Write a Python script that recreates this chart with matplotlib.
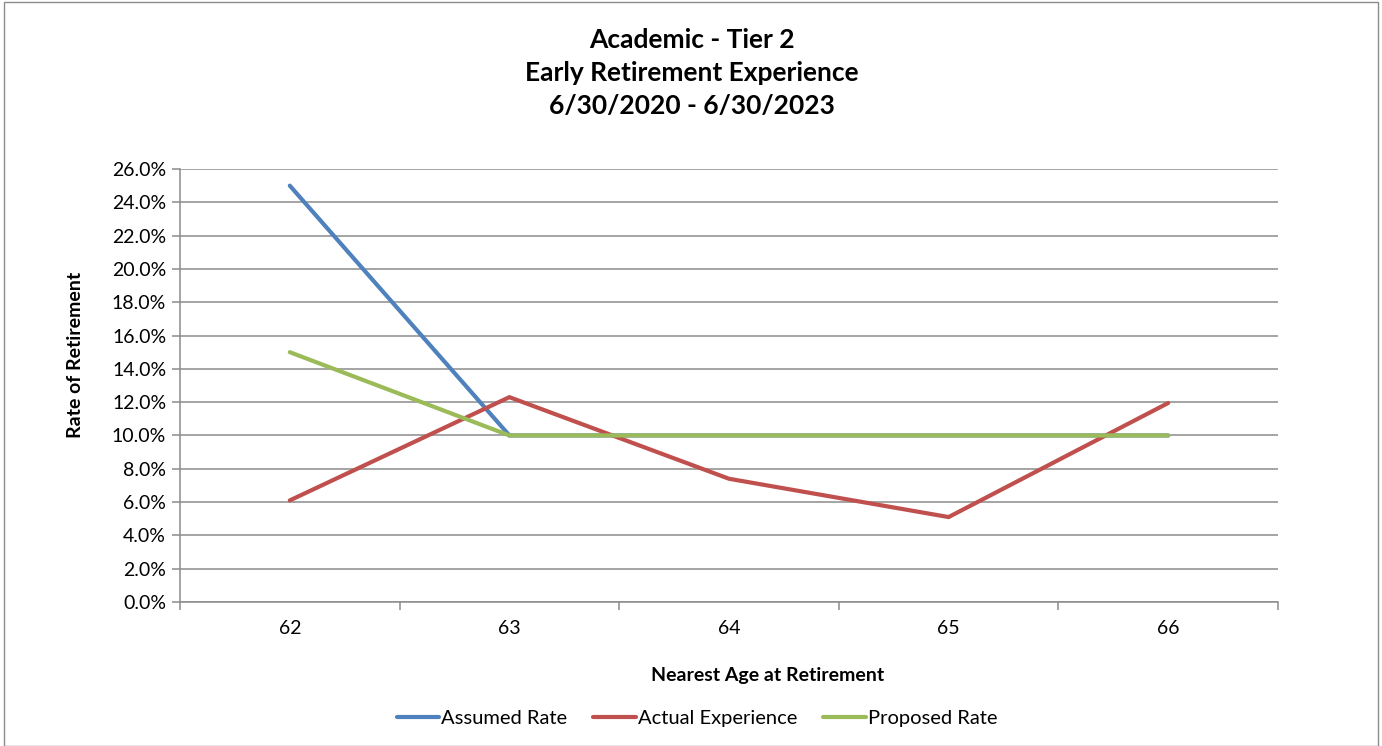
import matplotlib
matplotlib.use("Agg")
import matplotlib.pyplot as plt
from matplotlib.ticker import FuncFormatter, FixedLocator, NullFormatter
from matplotlib.patches import Rectangle

plt.rcParams['font.family'] = ['Lato', 'DejaVu Sans']

ages = ["62", "63", "64", "65", "66"]
assumed_rate = [25.0, 10.0, 10.0, 10.0, 10.0]
actual_experience = [6.1, 12.3, 7.4, 5.1, 11.95]
proposed_rate = [15.0, 10.0, 10.0, 10.0, 10.0]

title_lines = ["Academic - Tier 2", "Early Retirement Experience", "6/30/2020 - 6/30/2023"]

fig = plt.figure(figsize=(13.82, 7.46), dpi=100)
ax = fig.add_axes([180 / 1382, 144 / 746, 1098 / 1382, 433 / 746])

x = list(range(len(ages)))
lw = 3.0
ax.plot(x, [v / 100 for v in assumed_rate], color="#4F81BD", lw=lw, label="Assumed Rate",
        solid_capstyle="round", solid_joinstyle="miter")
ax.plot(x, [v / 100 for v in actual_experience], color="#C0504D", lw=lw, label="Actual Experience",
        solid_capstyle="round", solid_joinstyle="miter")
ax.plot(x, [v / 100 for v in proposed_rate], color="#9BBB59", lw=lw, label="Proposed Rate",
        solid_capstyle="round", solid_joinstyle="miter")

ax.set_xlim(-0.5, len(ages) - 0.5)
ax.set_ylim(0, 0.26)

ax.set_yticks([i * 0.02 for i in range(14)])
ax.yaxis.set_major_formatter(FuncFormatter(lambda v, p: f"{v * 100:.1f}%"))
ax.grid(axis="y", color="#8C8C8C", lw=1.1)
ax.set_axisbelow(True)

# category labels at centres, tick marks at category boundaries
ax.xaxis.set_major_locator(FixedLocator([i - 0.5 for i in range(len(ages) + 1)]))
ax.xaxis.set_major_formatter(NullFormatter())
ax.xaxis.set_minor_locator(FixedLocator(x))
ax.set_xticklabels(ages, minor=True)
ax.tick_params(axis="x", which="minor", length=0, pad=13, labelsize=14, colors="#000000")
ax.tick_params(axis="x", which="major", length=6, color="#8C8C8C", width=1.1)
ax.tick_params(axis="y", length=6, color="#8C8C8C", width=1.1, labelsize=14, pad=4)

for side in ["top", "right"]:
    ax.spines[side].set_visible(False)
for side in ["left", "bottom"]:
    ax.spines[side].set_color("#8C8C8C")
    ax.spines[side].set_linewidth(1.1)

ax.set_ylabel("Rate of Retirement", fontsize=14, fontweight="bold", va="center")
ax.yaxis.set_label_coords(-0.0956, 0.570)
ax.set_xlabel("Nearest Age at Retirement", fontsize=14, fontweight="bold", va="center")
ax.xaxis.set_label_coords(0.5355, -0.1686)

for i, line in enumerate(title_lines):
    fig.text(692 / 1382, 1 - (40 + 33 * i) / 746, line, ha="center", va="center",
             fontsize=19, fontweight="bold")

fig.legend(loc="center", bbox_to_anchor=(697 / 1382, 1 - 718 / 746), ncol=3, frameon=False,
           fontsize=14.5, handlelength=2.1, handletextpad=0.1, columnspacing=1.3)

fig.patches.append(Rectangle((4 / 1382, 0), 1374 / 1382, 1 - 2 / 746, transform=fig.transFigure,
                             fill=False, edgecolor="#8C8C8C", lw=1.0))

fig.savefig("out.png", dpi=100)
